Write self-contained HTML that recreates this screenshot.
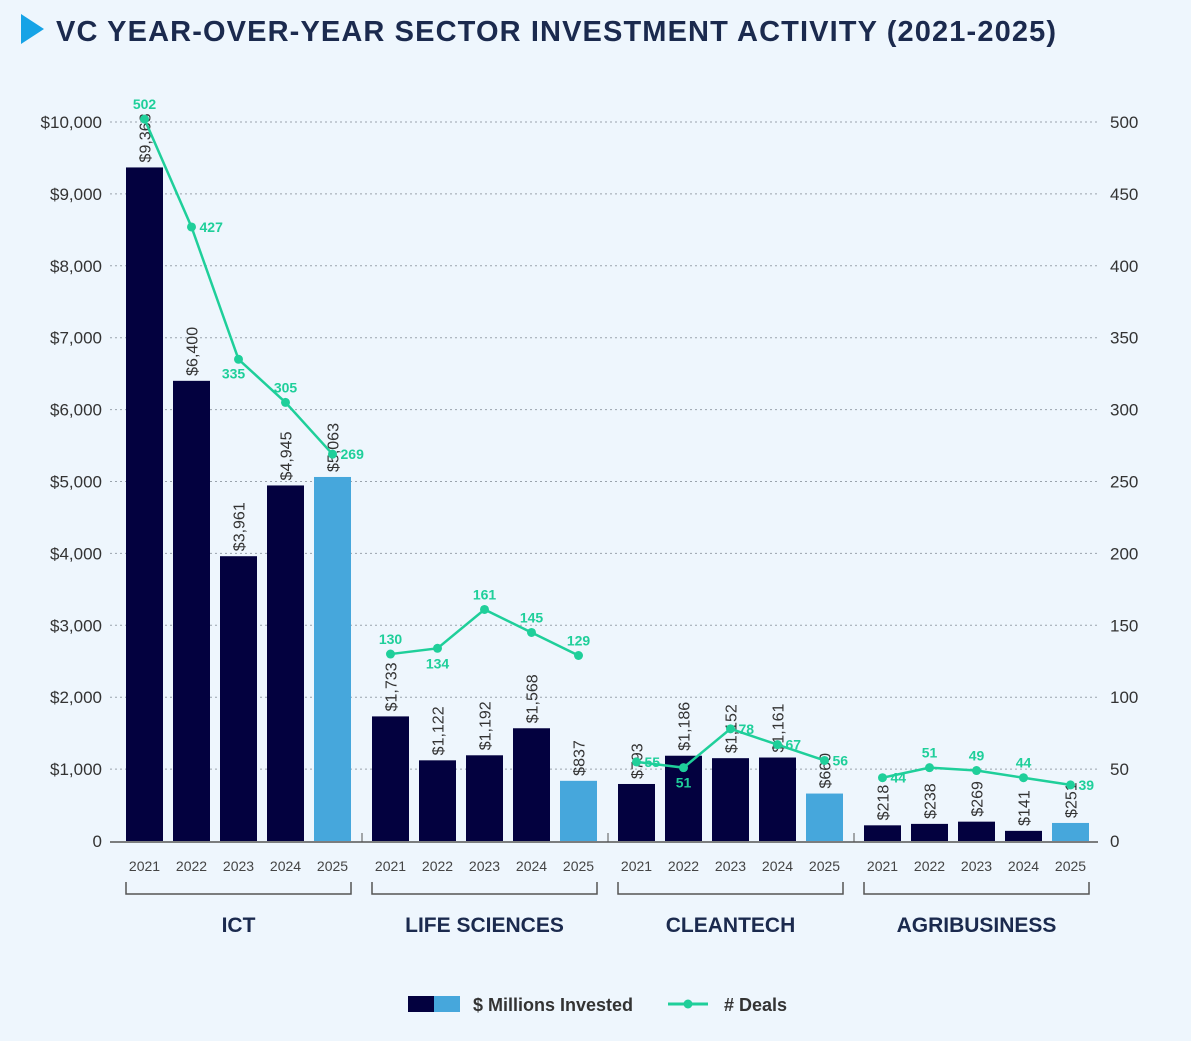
<!DOCTYPE html>
<html><head><meta charset="utf-8"><style>
html,body{margin:0;padding:0;background:#eef6fd;}
svg{display:block;font-family:"Liberation Sans",sans-serif;}
</style></head><body>
<svg id="chart" width="1191" height="1041" viewBox="0 0 1191 1041">
<rect width="1191" height="1041" fill="#eef6fd"/>
<polygon points="21,14 44,29 21,44" fill="#16a3e6"/>
<text x="56" y="41" font-size="29" font-weight="bold" fill="#1b2a4e" textLength="1000" lengthAdjust="spacing">VC YEAR-OVER-YEAR SECTOR INVESTMENT ACTIVITY (2021-2025)</text>
<g id="grid"></g><g id="bars"></g><g id="line"></g><g id="xaxis"></g>
<g>
<rect x="408" y="996" width="26" height="16" fill="#03013f"/>
<rect x="434" y="996" width="26" height="16" fill="#46a7dc"/>
<text x="473" y="1011" font-size="18" font-weight="bold" fill="#333">$ Millions Invested</text>
<line x1="668" y1="1004" x2="708" y2="1004" stroke="#1fcf9a" stroke-width="3"/>
<circle cx="688" cy="1004" r="4.5" fill="#1fcf9a"/>
<text x="724" y="1011" font-size="18" font-weight="bold" fill="#333"># Deals</text>
</g>
</svg>
<script>
const sectors=["ICT","LIFE SCIENCES","CLEANTECH","AGRIBUSINESS"];
const years=["2021","2022","2023","2024","2025"];
const invested=[[9368,6400,3961,4945,5063],[1733,1122,1192,1568,837],[793,1186,1152,1161,660],[218,238,269,141,251]];
const deals=[[502,427,335,305,269],[130,134,161,145,129],[55,51,78,67,56],[44,51,49,44,39]];
const dealLabelPos=[["above","right","belowleft","above","right"],["above","below","above","above","above"],["right","below","right","right","right"],["right","above","above","above","right"]];
const leftTicks=[0,1000,2000,3000,4000,5000,6000,7000,8000,9000,10000];
const rightTicks=[0,50,100,150,200,250,300,350,400,450,500];
const NS="http://www.w3.org/2000/svg";
const y0=841,yTop=122;
const yL=v=>y0-(v/10000)*(y0-yTop);
const yR=v=>y0-(v/500)*(y0-yTop);
const groupStart=g=>126+g*246;
const barX=(g,i)=>groupStart(g)+i*47;
const BW=37;
function mk(tag,attrs,parent){const e=document.createElementNS(NS,tag);for(const k in attrs)e.setAttribute(k,attrs[k]);parent.appendChild(e);return e;}
const grid=document.getElementById('grid'),bars=document.getElementById('bars'),line=document.getElementById('line'),xa=document.getElementById('xaxis');
leftTicks.forEach((t,i)=>{
  const y=yL(t);
  if(t>0){const l=mk('line',{x1:110,x2:1098,y1:y,y2:y,stroke:'#9aa3ad','stroke-width':1,'stroke-dasharray':'2,3'},grid);
  
  }
  const tx=mk('text',{x:102,y:y+6,'text-anchor':'end','font-size':17,fill:'#333'},grid);
  tx.textContent=t===0?'0':'$'+t.toLocaleString('en-US');
  
  
  const rt=mk('text',{x:1110,y:yR(rightTicks[i])+6,'font-size':17,fill:'#333'},grid);
  rt.textContent=rightTicks[i];
  
  
});
const ax=mk('line',{x1:110,x2:1098,y1:842,y2:842,stroke:'#555','stroke-width':1.5},xa);


sectors.forEach((s,g)=>{
  const gs=groupStart(g),ge=gs+4*47+BW;
  if(g>0){const tk=mk('line',{x1:gs-10,x2:gs-10,y1:833,y2:842,stroke:'#555'},xa);
  
  }
  const br=mk('path',{d:`M${gs},882 V894 H${ge} V882`,fill:'none',stroke:'#555','stroke-width':1.5},xa);
  
  
  const gl=mk('text',{x:(gs+ge)/2,y:932,'text-anchor':'middle','font-size':21,'font-weight':'bold',fill:'#1b2a4e'},xa);
  gl.textContent=s;
  
  
  const pts=[];
  years.forEach((yr,i)=>{
    const x=barX(g,i),v=invested[g][i],top=yL(v);
    const r=mk('rect',{x:x,y:top,width:BW,height:y0-top,fill:i===4?'#46a7dc':'#03013f'},bars);
    
    
    const cx=x+BW/2;
    const vl=mk('text',{x:0,y:0,'font-size':16,fill:'#333',transform:`translate(${cx+6},${top-5}) rotate(-90)`},bars);
    vl.textContent='$'+v.toLocaleString('en-US');
    
    
    const yl=mk('text',{x:cx,y:871,'text-anchor':'middle','font-size':14,fill:'#444'},xa);
    yl.textContent=yr;
    
    
    pts.push([cx,yR(deals[g][i])]);
  });
  const pl=mk('polyline',{points:pts.map(p=>p.join(',')).join(' '),fill:'none',stroke:'#1fcf9a','stroke-width':2.5},line);
  
  
  pts.forEach((p,i)=>{
    const c=mk('circle',{cx:p[0],cy:p[1],r:4.5,fill:'#1fcf9a'},line);
    
    
    const pos=dealLabelPos[g][i];
    let lx=p[0],ly=p[1]-10,anc='middle';
    if(pos==='right'){lx=p[0]+8;ly=p[1]+5;anc='start';}
    if(pos==='below'){ly=p[1]+20;}
    if(pos==='belowleft'){lx=p[0]-5;ly=p[1]+19;}
    const t=mk('text',{x:lx,y:ly,'text-anchor':anc,'font-size':14,'font-weight':'bold',fill:'#1fcf9a'},line);
    t.textContent=deals[g][i];
    
    
  });
});
</script>
</body></html>
